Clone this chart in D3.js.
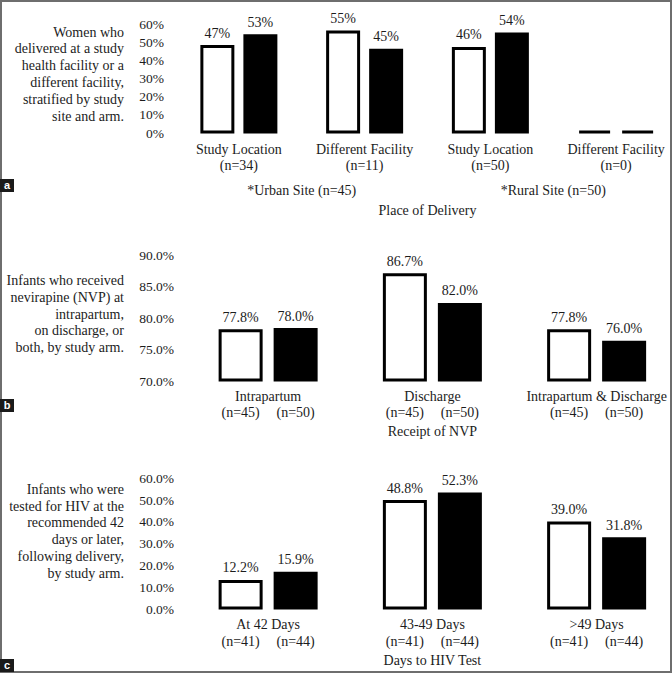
<!DOCTYPE html>
<html>
<head>
<meta charset="utf-8">
<script src="https://cdn.jsdelivr.net/npm/d3@7"></script>
<style>
  body { margin: 0; background: #fff; }
  svg { display: block; }
  text { font-family: "Liberation Serif", "Times New Roman", serif; fill: #1c1c1c; }
</style>
</head>
<body>
<svg id="svg_main" width="672" height="673"></svg>
<script>
// panel a: place of delivery
var deliveryCats = ["Study Location", "Different Facility", "Study Location ", "Different Facility "];
var deliveryN = ["(n=34)", "(n=11)", "(n=50)", "(n=0)"];
var deliveryArm1 = [47, 55, 46, 0];
var deliveryArm2 = [53, 45, 54, 0];
var deliverySites = ["*Urban Site (n=45)", "*Rural Site (n=50)"];
var deliveryTicks = [0, 10, 20, 30, 40, 50, 60];
var deliveryNote = ["Women who", "delivered at a study", "health facility or a",
	"different facility,", "stratified by study", "site and arm."];

// panel b: receipt of NVP
var nvpCats = ["Intrapartum", "Discharge", "Intrapartum & Discharge"];
var nvpArm1 = [77.8, 86.7, 77.8];
var nvpArm2 = [78.0, 82.0, 76.0];
var nvpN1 = ["(n=45)", "(n=45)", "(n=45)"];
var nvpN2 = ["(n=50)", "(n=50)", "(n=50)"];
var nvpTicks = [70, 75, 80, 85, 90];
var nvpNote = ["Infants who received", "nevirapine (NVP) at", "intrapartum,",
	"on discharge, or", "both, by study arm."];

// panel c: days to HIV test
var hivCats = ["At 42 Days", "43-49 Days", ">49 Days"];
var hivArm1 = [12.2, 48.8, 39.0];
var hivArm2 = [15.9, 52.3, 31.8];
var hivN1 = ["(n=41)", "(n=41)", "(n=41)"];
var hivN2 = ["(n=44)", "(n=44)", "(n=44)"];
var hivTicks = [0, 10, 20, 30, 40, 50, 60];
var hivNote = ["Infants who were", "tested for HIV at the", "recommended 42",
	"days or later,", "following delivery,", "by study arm."];

var arms = ["arm1", "arm2"];
var sw = 3;

var svg = d3.select("#svg_main");

function panel(cfg) {
	var g = svg.append("g");

	var x = d3.scaleBand().domain(cfg.cats).range(cfg.xRange).padding(0);
	var xi = d3.scaleBand().domain(arms).range([0, cfg.pairWidth]).paddingInner(cfg.pairPad);
	var y = d3.scaleLinear().domain(cfg.yDomain).range(cfg.yRange);
	var off = (x.bandwidth() - cfg.pairWidth) / 2;

	// y labels (no axis line, no ticks)
	var fmt = cfg.fmt;
	var ax = g.append("g")
		.attr("transform", `translate(${cfg.axisX}, 0)`)
		.call(d3.axisLeft(y).tickValues(cfg.ticks).tickSize(0).tickPadding(0).tickFormat(d => fmt(d) + "%"));
	ax.select(".domain").remove();
	ax.selectAll("text")
		.attr("font-family", "Liberation Serif, Times New Roman, serif")
		.attr("font-size", "13.5px")
		.attr("fill", "#1c1c1c")
		.attr("dy", "0.38em");

	// note on the left
	g.append("g").selectAll("text")
		.data(cfg.note)
		.enter().append("text")
		.attr("x", 124)
		.attr("y", (d, i) => cfg.noteY + i * cfg.noteStep)
		.attr("text-anchor", "end")
		.attr("font-size", "14px")
		.text(d => d);

	var rows = cfg.cats.map((c, i) => ({ cat: c, i: i, arm1: cfg.a1[i], arm2: cfg.a2[i] }));
	var bars = [];
	rows.forEach(r => arms.forEach(a => bars.push({ cat: r.cat, i: r.i, arm: a, v: r[a] })));

	var base = y(cfg.yDomain[0]);
	g.selectAll(".bar")
		.data(bars)
		.enter().append("path")
		.attr("class", "bar")
		.attr("d", d => {
			var x0 = x(d.cat) + off + xi(d.arm) + sw / 2,
				x1 = x(d.cat) + off + xi(d.arm) + xi.bandwidth() - sw / 2,
				y1 = y(d.v);
			return `M${x0},${base}V${y1}H${x1}V${base}Z`;
		})
		.attr("fill", d => d.arm == "arm1" ? "#fff" : "#000")
		.attr("stroke", "#000")
		.attr("stroke-width", sw);

	g.selectAll(".val")
		.data(bars.filter(d => d.v > 0))
		.enter().append("text")
		.attr("class", "val")
		.attr("x", d => x(d.cat) + off + xi(d.arm) + xi.bandwidth() / 2)
		.attr("y", d => y(d.v) - 9)
		.attr("text-anchor", "middle")
		.attr("font-size", "14px")
		.text(d => cfg.valFmt(d.v) + "%");

	g.selectAll(".cat")
		.data(rows)
		.enter().append("text")
		.attr("class", "cat")
		.attr("x", d => x(d.cat) + x.bandwidth() / 2)
		.attr("y", cfg.catY)
		.attr("text-anchor", "middle")
		.attr("font-size", "14px")
		.text(d => d.cat.trim());

	return { g: g, x: x, xi: xi, off: off };
}

// a
var pa = panel({
	cats: deliveryCats, a1: deliveryArm1, a2: deliveryArm2,
	xRange: [176, 679], pairWidth: 77, pairPad: 0.21,
	yDomain: [0, 60], yRange: [132, 23], ticks: deliveryTicks,
	fmt: d3.format("d"), valFmt: d3.format("d"), axisX: 164,
	note: deliveryNote, noteY: 36.5, noteStep: 16.8,
	catY: 153.5
});
pa.g.selectAll(".n")
	.data(deliveryN)
	.enter().append("text")
	.attr("x", (d, i) => pa.x(deliveryCats[i]) + pa.x.bandwidth() / 2)
	.attr("y", 169.5)
	.attr("text-anchor", "middle")
	.attr("font-size", "14px")
	.text(d => d);
pa.g.selectAll(".site")
	.data(deliverySites)
	.enter().append("text")
	.attr("x", (d, i) => (pa.x(deliveryCats[2 * i]) + pa.x(deliveryCats[2 * i + 1]) + pa.x.bandwidth()) / 2)
	.attr("y", 194.5)
	.attr("text-anchor", "middle")
	.attr("font-size", "14px")
	.text(d => d);
pa.g.append("text")
	.attr("x", (pa.x.range()[0] + pa.x.range()[1]) / 2)
	.attr("y", 214.5)
	.attr("text-anchor", "middle")
	.attr("font-size", "14px")
	.text("Place of Delivery");

// b and c share layout
function pairN(p, cats, n1, n2, yy) {
	var lab = [];
	cats.forEach((c, i) => { lab.push({ cat: c, arm: "arm1", t: n1[i] }); lab.push({ cat: c, arm: "arm2", t: n2[i] }); });
	p.g.selectAll(".n")
		.data(lab)
		.enter().append("text")
		.attr("x", d => p.x(d.cat) + p.off + p.xi(d.arm) + p.xi.bandwidth() / 2)
		.attr("y", yy)
		.attr("text-anchor", "middle")
		.attr("font-size", "14px")
		.text(d => d.t);
}

var pb = panel({
	cats: nvpCats, a1: nvpArm1, a2: nvpArm2,
	xRange: [186, 678.75], pairWidth: 99, pairPad: 0.2,
	yDomain: [70, 90], yRange: [380, 254], ticks: nvpTicks,
	fmt: d3.format(".1f"), valFmt: d3.format(".1f"), axisX: 174,
	note: nvpNote, noteY: 285, noteStep: 16.8,
	catY: 401
});
pairN(pb, nvpCats, nvpN1, nvpN2, 417);
pb.g.append("text")
	.attr("x", pb.x(nvpCats[1]) + pb.x.bandwidth() / 2)
	.attr("y", 436)
	.attr("text-anchor", "middle")
	.attr("font-size", "14px")
	.text("Receipt of NVP");

var pc = panel({
	cats: hivCats, a1: hivArm1, a2: hivArm2,
	xRange: [186, 678.75], pairWidth: 99, pairPad: 0.2,
	yDomain: [0, 60], yRange: [608, 477.2], ticks: hivTicks,
	fmt: d3.format(".1f"), valFmt: d3.format(".1f"), axisX: 174,
	note: hivNote, noteY: 494, noteStep: 16.7,
	catY: 629
});
pairN(pc, hivCats, hivN1, hivN2, 646);
pc.g.append("text")
	.attr("x", pc.x(hivCats[1]) + pc.x.bandwidth() / 2)
	.attr("y", 665)
	.attr("text-anchor", "middle")
	.attr("font-size", "14px")
	.text("Days to HIV Test");

// frame and panel letters
svg.append("rect")
	.attr("x", 1).attr("y", 1)
	.attr("width", 670).attr("height", 671)
	.attr("fill", "none")
	.attr("stroke", "#6e6e6e")
	.attr("stroke-width", 2);

var letters = [["a", 179], ["b", 399], ["c", 659]];
for (let l of letters) {
	svg.append("rect")
		.attr("x", 0).attr("y", l[1])
		.attr("width", 14).attr("height", 13)
		.attr("fill", "#1a1a1a");
	svg.append("text")
		.attr("x", 7).attr("y", l[1] + 10)
		.attr("text-anchor", "middle")
		.attr("font-weight", "bold")
		.attr("font-size", "11px")
		.style("fill", "#fff")
		.style("font-family", "Liberation Sans, Arial, sans-serif")
		.text(l[0]);
}
</script>
</body>
</html>
